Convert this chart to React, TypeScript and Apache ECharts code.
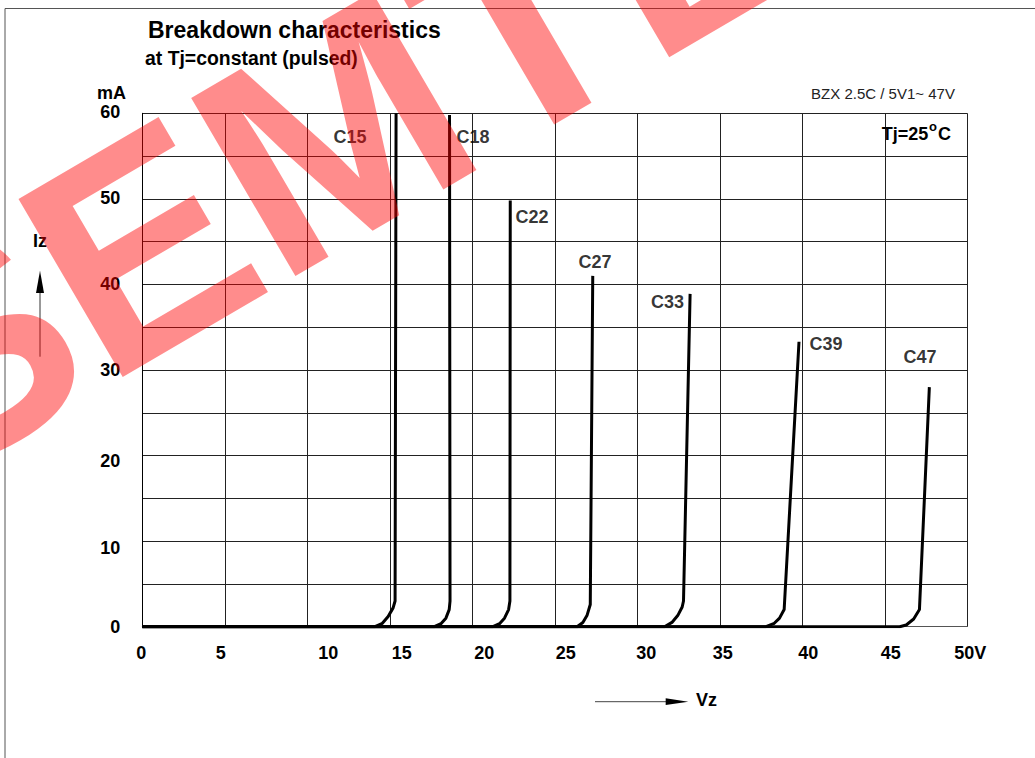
import React, { useEffect, useRef } from 'react';
import * as echarts from 'echarts';

const FONT = '"Liberation Sans", Arial, Helvetica, sans-serif';

// ---- data ----
const xTicks = [0, 5, 10, 15, 20, 25, 30, 35, 40, 45, 50];
const xTickLabels = ['0', '5', '10', '15', '20', '25', '30', '35', '40', '45', '50V'];
const yTickLabels = ['0', '10', '20', '30', '40', '50', '60'];

const curveNames = ['C15', 'C18', 'C22', 'C27', 'C33', 'C39', 'C47'];
const c15 = [[0, 0], [14.1, 0], [14.55, 0.4], [14.9, 1.2], [15.2, 2.2], [15.32, 3.0], [15.38, 60]];
const c18 = [[0, 0], [17.7, 0], [18.1, 0.35], [18.4, 1.0], [18.6, 2.0], [18.65, 3.0], [18.62, 59.8]];
const c22 = [[0, 0], [21.25, 0], [21.65, 0.35], [21.95, 1.0], [22.2, 2.0], [22.28, 3.0], [22.3, 49.8]];
const c27 = [[0, 0], [26.35, 0], [26.7, 0.5], [26.95, 1.3], [27.15, 2.6], [27.3, 41.0]];
const c33 = [[0, 0], [31.65, 0], [32.1, 0.5], [32.45, 1.3], [32.72, 2.3], [32.8, 3.0], [33.2, 38.9]];
const c39 = [[0, 0], [37.8, 0], [38.3, 0.4], [38.62, 1.0], [38.9, 2.0], [39.8, 33.3]];
const c47 = [[0, 0], [45.9, 0], [46.3, 0.2], [46.75, 0.9], [47.1, 2.0], [47.7, 28.0]];
const curves = [c15, c18, c22, c27, c33, c39, c47];

// curve label anchor points (data units)
const labelV = [12.59, 20.04, 23.62, 27.44, 31.83, 41.44, 47.13];
const labelI = [57.27, 57.27, 47.92, 42.66, 37.91, 33.0, 31.48];

// ---- style: small label nudges (px) ----
const xLabelShift: Record<number, number> = { 0: -1, 5: -4, 10: 21, 15: 12, 20: 12, 25: 11, 30: 9, 35: 3, 40: 6, 45: 6, 50: 3 };
const yLabelShift: Record<number, number> = { 0: 0, 10: 7, 20: 5, 30: 0, 40: 0, 50: -1, 60: -1.5 };

const labelFont = { fontSize: 18, fontWeight: 'bold' as const, color: '#000', fontFamily: FONT };

function buildOption() {
  const xRich: Record<string, any> = {};
  xTicks.forEach((v) => {
    const d = xLabelShift[v] || 0;
    xRich['x' + v] = { ...labelFont, padding: d >= 0 ? [0, 0, 0, 2 * d] : [0, -2 * d, 0, 0] };
  });
  const yRich: Record<string, any> = {};
  yTickLabels.forEach((t) => {
    const v = Number(t);
    const d = yLabelShift[v] || 0;
    yRich['y' + v] = { ...labelFont, padding: d >= 0 ? [2 * d, 0, 0, 0] : [0, 0, -2 * d, 0] };
  });

  const lineSeries = curves.map((data, i) => ({
    name: curveNames[i],
    type: 'line',
    data,
    showSymbol: false,
    symbol: 'none',
    smooth: false,
    lineStyle: { color: '#000', width: 3, cap: 'butt', join: 'round' },
    z: 3,
    silent: true,
  }));

  const labelSeries = {
    type: 'scatter',
    data: labelV.map((v, i) => ({ value: [v, labelI[i]], name: curveNames[i] })),
    symbolSize: 1,
    itemStyle: { color: 'rgba(0,0,0,0)' },
    label: { show: true, position: 'inside', formatter: '{b}', ...labelFont },
    silent: true,
    z: 4,
  };

  const t = (text: string, x: number, y: number, extra: any = {}) => ({
    type: 'text',
    x,
    y,
    silent: true,
    z: 10,
    style: {
      text,
      fill: '#000',
      fontFamily: FONT,
      fontSize: 18,
      fontWeight: 'bold',
      align: 'left',
      textAlign: 'left',
      verticalAlign: 'middle',
      textVerticalAlign: 'middle',
      ...extra,
    },
  });

  const wmRot = (30.3 * Math.PI) / 180;

  return {
    animation: false,
    backgroundColor: '#fff',
    grid: { left: 142.3, right: 67.7, top: 113.3, bottom: 131.3, containLabel: false, outerBoundsMode: 'none' },
    xAxis: {
      type: 'value',
      min: 0,
      max: 50,
      interval: 5,
      axisLine: { show: true, lineStyle: { color: '#555', width: 1 } },
      axisTick: { show: false },
      splitLine: { show: true, lineStyle: { color: '#222', width: 1 } },
      axisLabel: {
        margin: 17,
        ...labelFont,
        formatter: (v: number) => {
          const idx = xTicks.indexOf(v);
          return idx >= 0 ? `{x${v}|${xTickLabels[idx]}}` : '';
        },
        rich: xRich,
      },
    },
    yAxis: {
      type: 'value',
      min: 0,
      max: 60,
      interval: 5,
      axisLine: { show: true, lineStyle: { color: '#000', width: 1 } },
      axisTick: { show: false },
      splitLine: { show: true, lineStyle: { color: '#222', width: 1 } },
      axisLabel: {
        margin: 22,
        ...labelFont,
        formatter: (v: number) => {
          const s = String(v);
          return yTickLabels.indexOf(s) >= 0 ? `{y${v}|${s}}` : '';
        },
        rich: yRich,
      },
    },
    series: [...lineSeries, labelSeries],
    graphic: [
      // page frame (top and left edges)
      { type: 'line', silent: true, shape: { x1: 5, y1: 8.5, x2: 1035, y2: 8.5 }, style: { stroke: '#555', lineWidth: 1 } },
      { type: 'line', silent: true, shape: { x1: 5, y1: 8.5, x2: 5, y2: 758 }, style: { stroke: '#555', lineWidth: 1 } },
      t('Breakdown characteristics', 148, 29.5, { fontSize: 23 }),
      t('at Tj=constant (pulsed)', 145, 57.5, { fontSize: 19.4 }),
      t('mA', 97, 92.5),
      t('Iz', 33, 240.5),
      t('Vz', 696, 699.5),
      t('BZX 2.5C / 5V1~ 47V', 883, 93.5, { fontSize: 15, fontWeight: 'normal', fill: '#222', align: 'center', textAlign: 'center' }),
      t('Tj=25', 881.7, 134),
      t('o', 929, 126, { fontSize: 13 }),
      t('C', 938, 134),
      // arrows
      { type: 'line', silent: true, shape: { x1: 40, y1: 356.7, x2: 40, y2: 290 }, style: { stroke: '#333', lineWidth: 1 } },
      { type: 'polygon', silent: true, shape: { points: [[40, 270.7], [36, 293], [44, 293]] }, style: { fill: '#000' } },
      { type: 'line', silent: true, shape: { x1: 595, y1: 701.7, x2: 670, y2: 701.7 }, style: { stroke: '#444', lineWidth: 1 } },
      { type: 'polygon', silent: true, shape: { points: [[688.3, 701.7], [665.7, 698.3], [665.7, 705.1]] }, style: { fill: '#000' } },
      // watermark
      {
        type: 'text',
        silent: true,
        z: 100,
        x: -119.8,
        y: 398.5,
        rotation: wmRot,
        style: {
          text: 'SEMTECH',
          fontFamily: FONT,
          fontSize: 300,
          fontWeight: 'bold',
          fill: 'rgba(255,0,0,0.45)',
          align: 'left',
          textAlign: 'left',
          verticalAlign: 'middle',
          textVerticalAlign: 'middle',
        },
      },
    ],
  };
}

export default function App() {
  const ref = useRef<HTMLDivElement>(null);
  useEffect(() => {
    if (!ref.current) return;
    const chart = echarts.init(ref.current, null, { renderer: 'svg' });
    chart.setOption(buildOption() as any);
    return () => chart.dispose();
  }, []);
  return (
    <div
      ref={ref}
      style={{ position: 'absolute', left: 0, top: 0, width: 1035, height: 758, background: '#fff', overflow: 'hidden' }}
    />
  );
}
